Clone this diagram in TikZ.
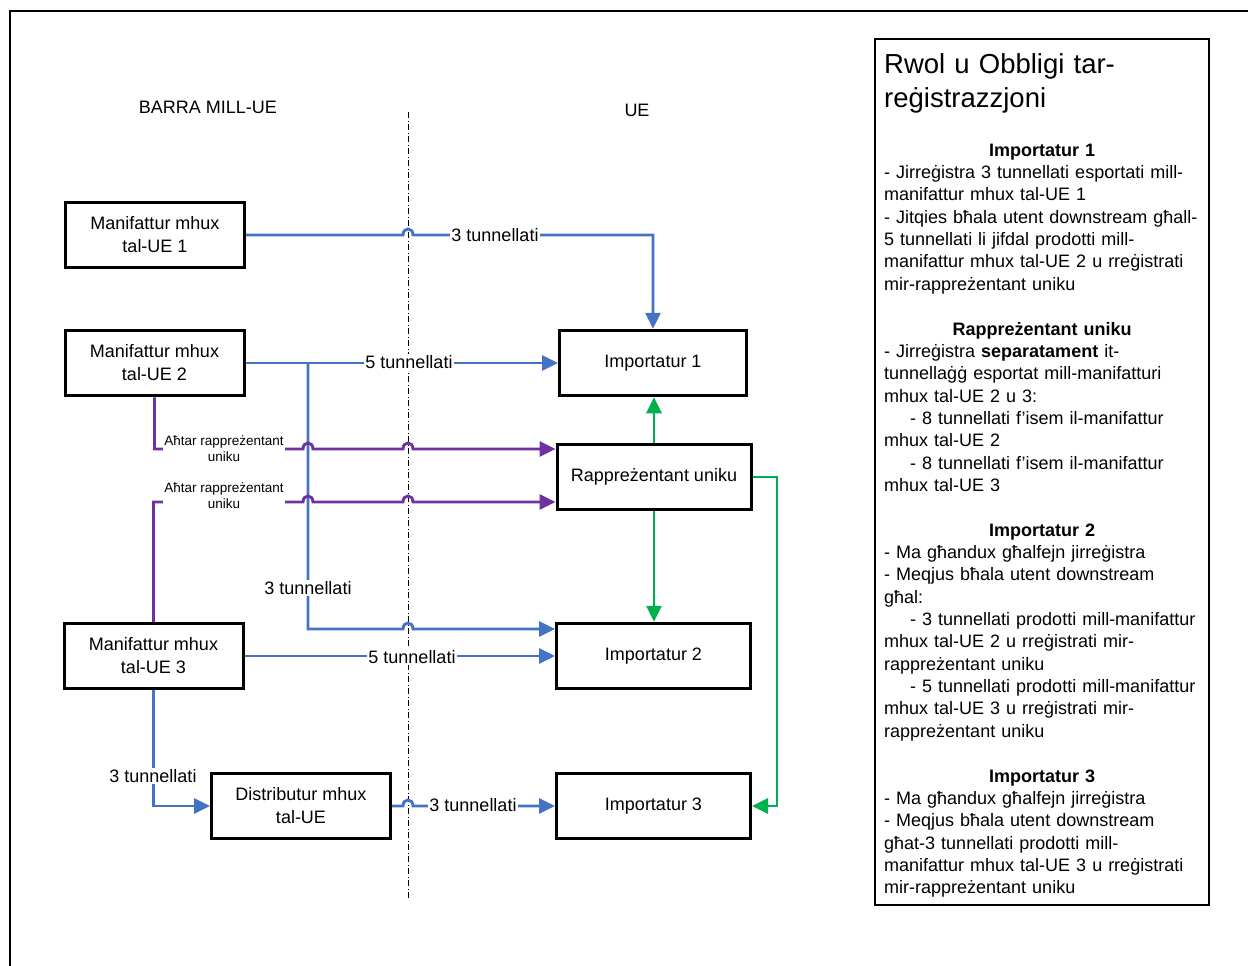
\documentclass[tikz,border=0pt]{standalone}
\usepackage{fontspec}
\setmainfont{Liberation Sans}
\usetikzlibrary{arrows.meta}
\definecolor{cblue}{HTML}{4472C4}
\definecolor{cpurple}{HTML}{7030A0}
\definecolor{cgreen}{HTML}{00B050}
\begin{document}
\begin{tikzpicture}[x=1pt,y=-1pt,
  box/.style={draw,line width=3pt,fill=white,align=center,minimum height=65.5pt,inner sep=2pt,font=\fontsize{18}{23}\selectfont},
  conn/.style={line width=2.9pt,-{Triangle[length=16pt,width=15pt]}},
  bconn/.style={conn,color=cblue},
  pconn/.style={conn,color=cpurple},
  gconn/.style={conn,color=cgreen},
  lbl/.style={fill=white,inner sep=1pt,font=\fontsize{18}{22}\selectfont},
  slbl/.style={fill=white,inner sep=1pt,align=center,font=\fontsize{13.5}{16}\selectfont},
  hdr/.style={font=\fontsize{18}{22}\selectfont},
  dashdot/.style={line width=1pt,dash pattern=on 6pt off 2.5pt on 1pt off 2.5pt}
]
\useasboundingbox (0,0) rectangle (1248,966);
% outer frame
\draw[line width=2.2pt] (10,970) -- (10,11) -- (1252,11);
% border line between regions
\draw[dashdot] (408,112) -- (408,900);
% titles
\node[hdr] (tNon) at (208,107) {BARRA MILL-UE};
\node[hdr] (tEU) at (637,110) {UE};
% boxes
\node[box,minimum width=179pt] (m1) at (155,235) {Manifattur mhux\\tal-UE 1};
\node[box,minimum width=179pt] (m2) at (154.5,363) {Manifattur mhux\\tal-UE 2};
\node[box,minimum width=179pt] (m3) at (153.5,656) {Manifattur mhux\\tal-UE 3};
\node[box,minimum width=179pt] (dist) at (301,806) {Distributur mhux\\tal-UE};
\node[box,minimum width=187pt] (imp1) at (653,363) {Importatur 1};
\node[box,minimum width=194pt] (ru) at (654,477) {Rappreżentant uniku};
\node[box,minimum width=194pt] (imp2) at (653.5,656) {Importatur 2};
\node[box,minimum width=194pt] (imp3) at (653.5,806) {Importatur 3};
% blue connectors
\draw[bconn] (m1.east) -- (403,235) .. controls (403,227) and (413,227) .. (413,235) -| (imp1.north);
\draw[bconn] (m2.east) -- (imp1.west);
\coordinate (br) at (308,363);
\draw[bconn] (br) |- (403,629) .. controls (403,621) and (413,621) .. (413,629) -- (imp2.west |- 0,629);
\draw[bconn] (m3.east) -- (imp2.west);
\draw[bconn] (m3.south) |- (dist.west);
\draw[bconn] (dist.east) -- (403,806) .. controls (403,798) and (413,798) .. (413,806) -- (imp3.west);
% purple connectors
\draw[pconn] (m2.south) |- (303,449) .. controls (303,441) and (313,441) .. (313,449) -- (403,449) .. controls (403,441) and (413,441) .. (413,449) -- (ru.west |- 0,449);
\draw[pconn] (m3.north) |- (303,502) .. controls (303,494) and (313,494) .. (313,502) -- (403,502) .. controls (403,494) and (413,494) .. (413,502) -- (ru.west |- 0,502);
% green connectors
\draw[gconn] (ru.north) -- (ru.north |- imp1.south);
\draw[gconn] (ru.south) -- (ru.south |- imp2.north);
\draw[gconn] (ru.east) -- (777,477) |- (imp3.east);
% labels
\node[lbl] (l1) at (495,235) {3 tunnellati};
\node[lbl] (l2) at (409,362) {5 tunnellati};
\node[lbl] (l3) at (308,588) {3 tunnellati};
\node[lbl] (l4) at (412,657) {5 tunnellati};
\node[lbl] (l5) at (153,776) {3 tunnellati};
\node[lbl] (l6) at (473,805) {3 tunnellati};
\node[slbl] (p1) at (224,449) {Aħtar rappreżentant\\uniku};
\node[slbl] (p2) at (224,496) {Aħtar rappreżentant\\uniku};
% right panel
\node[draw,line width=2.6pt,minimum width=334pt,minimum height=866pt,inner sep=0pt] (panel) at (1042,472) {};
\node[anchor=north west,inner sep=0pt,text width=320pt,align=left,font=\fontsize{27.5}{34}\selectfont] (ptitle) at (884,49.2) {\strut Rwol u Obbligi tar-\\reġistrazzjoni};
\node[anchor=north west,inner sep=0pt,text width=330pt,align=left,font=\fontsize{18}{22.35}\selectfont] (pbody) at (884,140.4) {%
\strut\makebox[316pt][c]{\bfseries Importatur 1}\\
- Jirreġistra 3 tunnellati esportati mill-\\
manifattur mhux tal-UE 1\\
- Jitqies bħala utent downstream għall-\\
5 tunnellati li jifdal prodotti mill-\\
manifattur mhux tal-UE 2 u rreġistrati\\
mir-rappreżentant uniku\\
\mbox{}\\
\makebox[316pt][c]{\bfseries Rappreżentant uniku}\\
- Jirreġistra \textbf{separatament} it-\\
tunnellaġġ esportat mill-manifatturi\\
mhux tal-UE 2 u 3:\\
\hspace*{26pt}- 8 tunnellati f’isem il-manifattur\\
mhux tal-UE 2\\
\hspace*{26pt}- 8 tunnellati f’isem il-manifattur\\
mhux tal-UE 3\\
\mbox{}\\
\makebox[316pt][c]{\bfseries Importatur 2}\\
- Ma għandux għalfejn jirreġistra\\
- Meqjus bħala utent downstream\\
għal:\\
\hspace*{26pt}- 3 tunnellati prodotti mill-manifattur\\
mhux tal-UE 2 u rreġistrati mir-\\
rappreżentant uniku\\
\hspace*{26pt}- 5 tunnellati prodotti mill-manifattur\\
mhux tal-UE 3 u rreġistrati mir-\\
rappreżentant uniku\\
\mbox{}\\
\makebox[316pt][c]{\bfseries Importatur 3}\\
- Ma għandux għalfejn jirreġistra\\
- Meqjus bħala utent downstream\\
għat-3 tunnellati prodotti mill-\\
manifattur mhux tal-UE 3 u rreġistrati\\
mir-rappreżentant uniku};
\end{tikzpicture}
\end{document}
